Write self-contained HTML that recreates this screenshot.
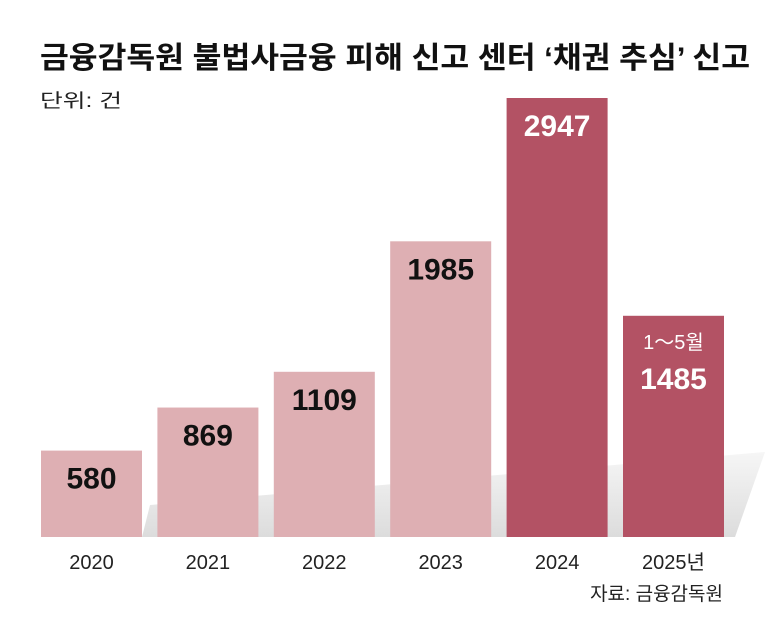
<!DOCTYPE html>
<html><head><meta charset="utf-8"><style>
body{margin:0;background:#fff}
svg{display:block;font-family:"Liberation Sans","Noto Sans CJK KR",sans-serif}
</style></head><body>
<svg width="780" height="638" viewBox="0 0 780 638">
<defs><linearGradient id="sh" x1="0" y1="1" x2="0" y2="0"><stop offset="0" stop-color="#dcdcdc"/><stop offset="1" stop-color="#f6f6f6"/></linearGradient></defs>
<text x="40" y="68" font-size="30" font-weight="bold" fill="#111" textLength="710" lengthAdjust="spacingAndGlyphs">금융감독원 불법사금융 피해 신고 센터 ‘채권 추심’ 신고</text>
<text x="40" y="107" font-size="19" fill="#222" textLength="82" lengthAdjust="spacingAndGlyphs">단위: 건</text>
<polygon points="142,537 150,505 765,452 735,537" fill="url(#sh)"/>
<g id="bars"></g>
<text x="723" y="600" font-size="19" fill="#222" text-anchor="end">자료: 금융감독원</text>
<script>
const categories=["2020","2021","2022","2023","2024","2025년"];
const values=[580,869,1109,1985,2947,1485];
const colors=["#deafb3","#deafb3","#deafb3","#deafb3","#b35264","#b35264"];
const NS="http://www.w3.org/2000/svg";
const g=document.getElementById("bars");
const base=537, maxV=2947, maxH=439;
const y=v=>base-v/maxV*maxH;
const x=i=>41+i*116.4;
const bw=101;
function mk(t,a){const e=document.createElementNS(NS,t);for(const k in a)e.setAttribute(k,a[k]);g.appendChild(e);return e;}
categories.forEach((c,i)=>{
  const r=mk("rect",{x:x(i),y:y(values[i]),width:bw,height:base-y(values[i]),fill:colors[i]});
  
  
  const dark=i>=4;
  const vt=mk("text",{x:x(i)+bw/2,y:y(values[i])+(i==5?73:38),"font-size":30,"font-weight":"bold","text-anchor":"middle",fill:dark?"#fff":"#111"});
  vt.textContent=values[i];
  
  
  const ct=mk("text",{x:x(i)+bw/2,y:569,"font-size":20,"text-anchor":"middle",fill:"#222"});
  ct.textContent=c;
  
  
  if(i==5){
    const n=mk("text",{x:x(i)+bw/2,y:y(values[i])+33,"font-size":20,"text-anchor":"middle",fill:"#fff"});
    n.textContent="1～5월";
    
    
  }
});
</script>
</svg>
</body></html>
